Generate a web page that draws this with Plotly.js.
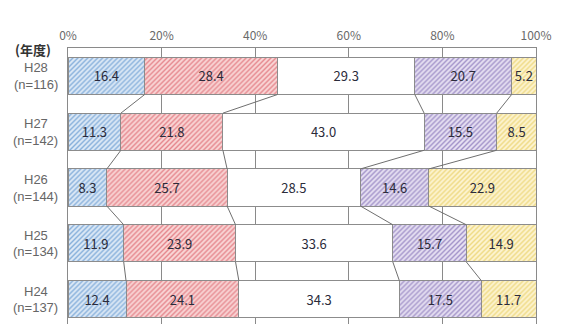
<!DOCTYPE html>
<html>
<head>
<meta charset="utf-8">
<script src="https://cdn.plot.ly/plotly-3.0.1.min.js"></script>
<style>
  html, body { margin: 0; padding: 0; background: #fff; }
  #chart { width: 562px; height: 324px; }
</style>
</head>
<body>
<div id="chart"></div>
<script>
// Survey years (top to bottom) and respondent counts
const years = ['H28', 'H27', 'H26', 'H25', 'H24'];
const counts = [116, 142, 144, 134, 137];

// Share of each answer category (%), one array per category
const cat1 = [16.4, 11.3, 8.3, 11.9, 12.4];
const cat2 = [28.4, 21.8, 25.7, 23.9, 24.1];
const cat3 = [29.3, 43.0, 28.5, 33.6, 34.3];
const cat4 = [20.7, 15.5, 14.6, 15.7, 17.5];
const cat5 = [5.2, 8.5, 22.9, 14.9, 11.7];

const xTicks = [0, 20, 40, 60, 80, 100];

const series = [cat1, cat2, cat3, cat4, cat5];
const styles = [
  { bg: '#dde9f6', fg: '#86afdb', shape: '/' },
  { bg: '#f9d6d6', fg: '#e5868d', shape: '/' },
  { bg: '#ffffff', fg: '#ffffff', shape: '' },
  { bg: '#e6e0f2', fg: '#a293c9', shape: '/' },
  { bg: '#fdf4d2', fg: '#eed981', shape: '/' }
];

const pos = years.map((_, i) => i);
const barWidth = 0.665;
const font = '"Noto Sans CJK JP", "Noto Sans", sans-serif';
const latinFont = '"Liberation Sans", Arial, sans-serif';

const traces = series.map((vals, k) => ({
  type: 'bar',
  orientation: 'h',
  x: vals,
  y: pos,
  width: barWidth,
  marker: {
    color: styles[k].bg,
    line: { color: '#8c8c8c', width: 1 },
    pattern: { shape: styles[k].shape, fgcolor: styles[k].fg, bgcolor: styles[k].bg, size: 3.5, solidity: 0.4 }
  },
  text: vals.map(v => v.toFixed(1)),
  textposition: 'inside',
  insidetextanchor: 'middle',
  textangle: 0,
  textfont: { family: font, size: 13, color: '#2b2b3a' },
  hoverinfo: 'skip',
  showlegend: false
}));

// Series lines joining category boundaries of neighbouring bars
const cum = years.map((_, i) => {
  let s = 0;
  return series.map(arr => (s += arr[i]));
});
const lx = [], ly = [];
for (let i = 0; i < years.length - 1; i++) {
  for (let k = 0; k < series.length - 1; k++) {
    lx.push(cum[i][k], cum[i + 1][k], null);
    ly.push(i + barWidth / 2, i + 1 - barWidth / 2, null);
  }
}
traces.push({
  type: 'scatter',
  mode: 'lines',
  x: lx,
  y: ly,
  line: { color: '#6f6f6f', width: 1 },
  hoverinfo: 'skip',
  showlegend: false,
  cliponaxis: false
});

// Category labels: year on the first line, sample size below
const labelFont = { family: latinFont, size: 13, color: '#666666' };
const annotations = [];
years.forEach((yr, i) => {
  annotations.push({
    xref: 'paper', yref: 'y', x: -0.0694, y: i,
    xanchor: 'center', yanchor: 'middle', yshift: 8, borderpad: 0,
    text: yr, showarrow: false, font: labelFont
  });
  annotations.push({
    xref: 'paper', yref: 'y', x: -0.0694, y: i,
    xanchor: 'center', yanchor: 'middle', yshift: -8.5, borderpad: 0,
    text: '(n=' + counts[i] + ')', showarrow: false, font: labelFont
  });
});
annotations.push({
  xref: 'paper', yref: 'paper',
  x: -0.075, y: 1,
  xanchor: 'center', yanchor: 'middle',
  yshift: -1, borderpad: 0,
  text: '<b>(年度)</b>',
  showarrow: false,
  font: { family: font, size: 13, color: '#333333' }
});

const layout = {
  width: 562,
  height: 324,
  margin: { l: 68, r: 26, t: 48, b: 0 },
  paper_bgcolor: '#ffffff',
  plot_bgcolor: '#ffffff',
  barmode: 'stack',
  xaxis: {
    side: 'top',
    range: [0, 100],
    tickvals: xTicks,
    ticktext: xTicks.map(v => v + '%'),
    ticks: '',
    ticklabelstandoff: 2,
    tickfont: { family: font, size: 12, color: '#6a6a6a' },
    showgrid: true,
    gridcolor: '#8a8a8a',
    gridwidth: 1,
    showline: true,
    linecolor: '#8a8a8a',
    linewidth: 1,
    zeroline: false,
    fixedrange: true
  },
  yaxis: {
    range: [4.446, -0.5],
    showticklabels: false,
    ticks: '',
    showgrid: false,
    zeroline: false,
    showline: true,
    mirror: true,
    linecolor: '#8a8a8a',
    linewidth: 1,
    fixedrange: true
  },
  annotations: annotations
};

Plotly.newPlot('chart', traces, layout, { displayModeBar: false, staticPlot: true });
</script>
</body>
</html>
